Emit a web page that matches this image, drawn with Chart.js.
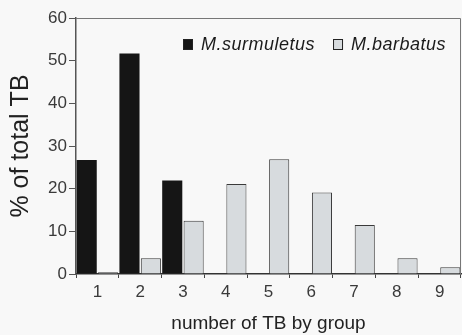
<!DOCTYPE html>
<html>
<head>
<meta charset="utf-8">
<script src="https://cdn.jsdelivr.net/npm/chart.js@4/dist/chart.umd.min.js"></script>
<style>
html,body{margin:0;padding:0;background:#f8f8f8;}
#wrap{width:462px;height:335px;}
</style>
</head>
<body>
<div id="wrap"><canvas id="c" width="462" height="335"></canvas></div>
<script>
const categories = ['1','2','3','4','5','6','7','8','9'];
const surmuletus = [26.7, 51.7, 21.9, 0, 0, 0, 0, 0, 0];
const barbatus = [0.4, 3.7, 12.5, 21.1, 26.9, 19.1, 11.5, 3.7, 1.6];
const yTicks = [0, 10, 20, 30, 40, 50, 60];
const seriesNames = ['M.surmuletus', 'M.barbatus'];

const FONT = '"Liberation Sans", Arial, sans-serif';

const boxPlugin = {
  id: 'box',
  afterDatasetsDraw(chart) {
    const {ctx, chartArea: a} = chart;
    ctx.save();
    ctx.strokeStyle = '#777';
    ctx.lineWidth = 1;
    ctx.beginPath();
    ctx.moveTo(a.left, a.top + 0.5);
    ctx.lineTo(a.right - 0.5, a.top + 0.5);
    ctx.lineTo(a.right - 0.5, a.bottom);
    ctx.stroke();
    // legend
    const items = chart.data.datasets;
    ctx.font = 'italic 18px ' + FONT;
    try { ctx.letterSpacing = '0.5px'; } catch (e) {}
    ctx.textBaseline = 'middle';
    const y = a.top + 26;
    let x = a.left + 107;
    items.forEach((ds, i) => {
      ctx.fillStyle = ds.backgroundColor;
      ctx.fillRect(x, y - 5, 10, 11);
      ctx.strokeStyle = '#222';
      ctx.lineWidth = 1;
      ctx.strokeRect(x + 0.5, y - 4.5, 9, 10);
      ctx.fillStyle = '#1a1a1a';
      ctx.fillText(ds.label, x + 18, y + 1);
      x += 18 + ctx.measureText(ds.label).width + 18;
    });
    ctx.restore();
  }
};

new Chart(document.getElementById('c'), {
  type: 'bar',
  data: {
    labels: categories,
    datasets: [
      { label: seriesNames[0], data: surmuletus, backgroundColor: '#151515', borderColor: '#151515', borderWidth: 0 },
      { label: seriesNames[1], data: barbatus, backgroundColor: '#d7dbde', borderColor: '#3a3a3a', borderWidth: 1 }
    ]
  },
  options: {
    responsive: false,
    animation: false,
    devicePixelRatio: 1,
    layout: { padding: { top: 18, right: 1, left: 0, bottom: 0 } },
    datasets: { bar: { categoryPercentage: 1.0, barPercentage: 0.94 } },
    plugins: { legend: { display: false }, tooltip: { enabled: false } },
    scales: {
      x: {
        offset: true,
        grid: { display: true, drawOnChartArea: false, offset: true, tickLength: 4, color: '#444' },
        border: { display: true, color: '#333', width: 1.5 },
        ticks: { color: '#3a3a3a', font: { family: FONT, size: 17 }, padding: 4 },
        title: { display: true, text: 'number of TB by group', color: '#222', font: { family: FONT, size: 19 }, padding: { top: 0, bottom: 0 } },
        afterFit(s) { s.height = 61; }
      },
      y: {
        min: 0, max: 60,
        afterBuildTicks(s) { s.ticks = yTicks.map(v => ({ value: v })); },
        grid: { display: true, drawOnChartArea: false, tickLength: 7, color: '#555' },
        border: { display: true, color: '#555', width: 1.5 },
        ticks: { color: '#3a3a3a', font: { family: FONT, size: 17 }, padding: 2 },
        title: { display: true, text: '% of total TB', color: '#222', font: { family: FONT, size: 25 }, padding: { top: 6, bottom: 0 } },
        afterFit(s) { s.width = 76; }
      }
    }
  },
  plugins: [boxPlugin]
});
</script>
</body>
</html>
